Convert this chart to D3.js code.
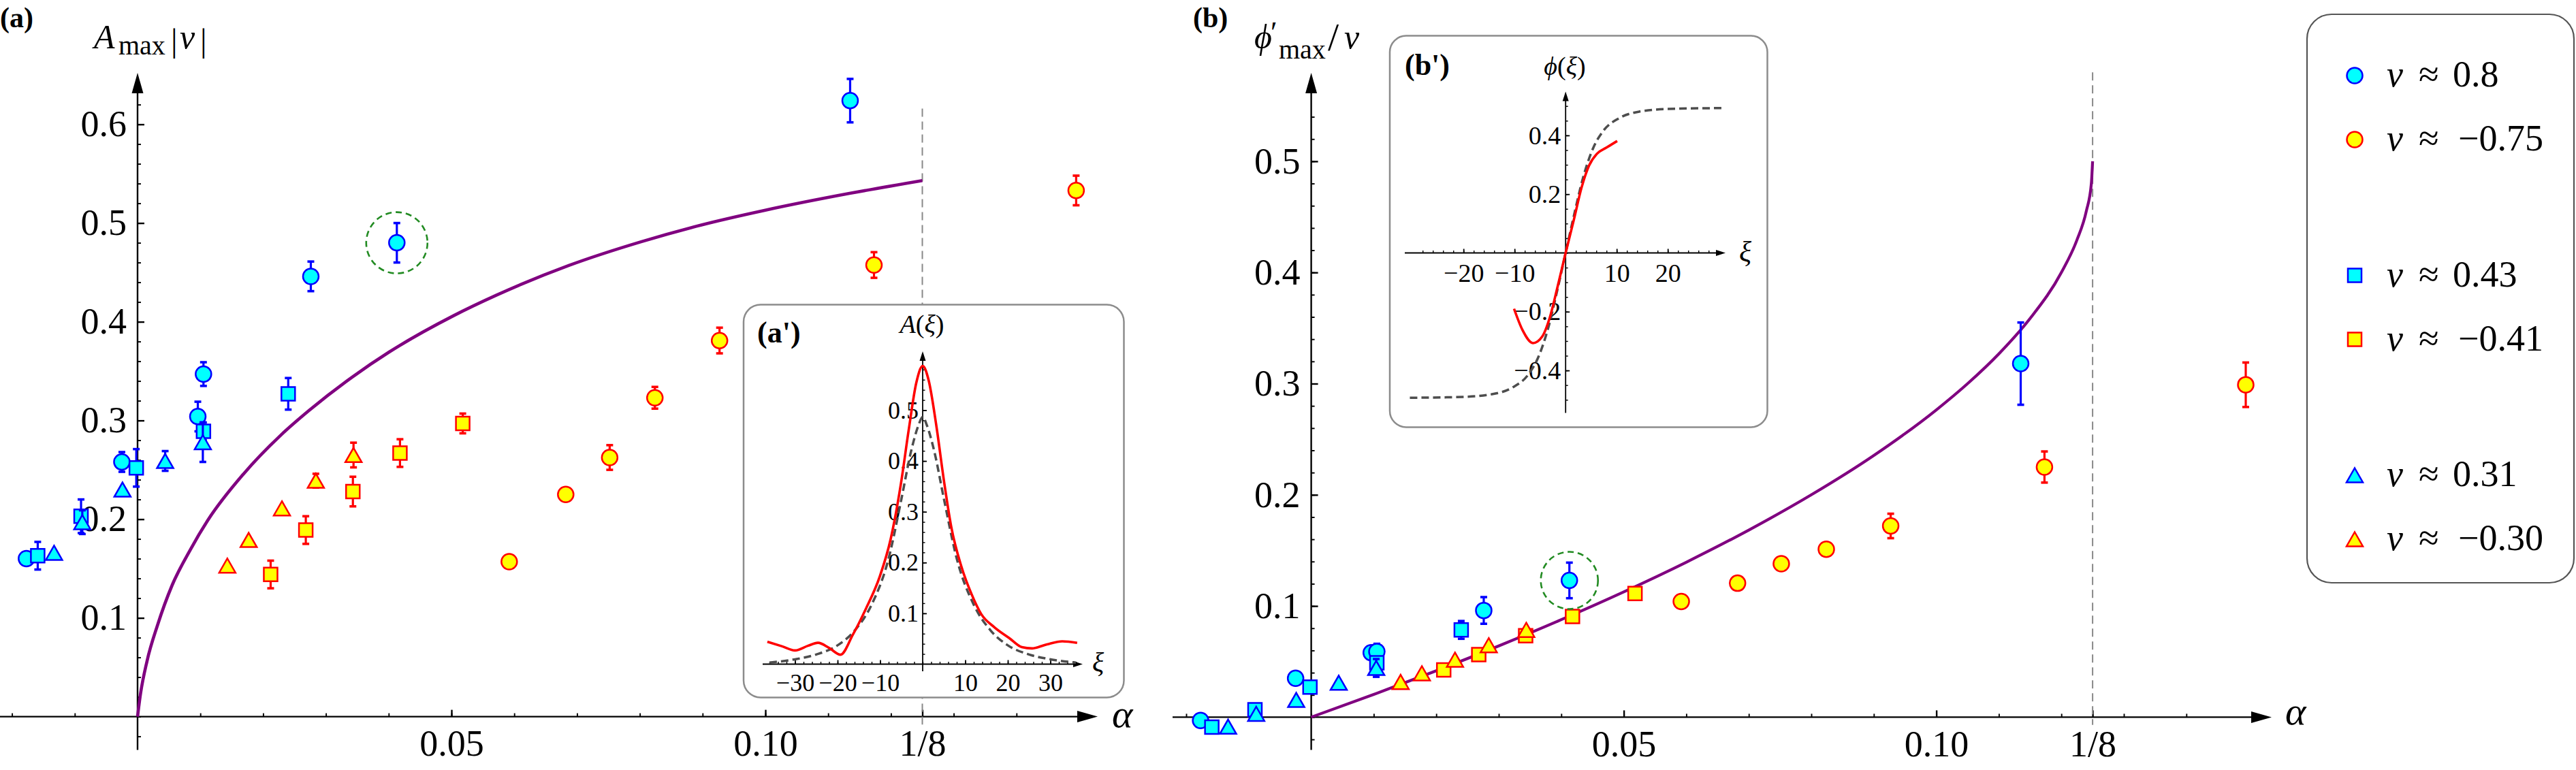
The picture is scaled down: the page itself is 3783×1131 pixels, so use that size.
<!DOCTYPE html>
<html>
<head>
<meta charset="utf-8">
<title>A_max|v| and phi'_max/v against alpha</title>
<script src="https://cdn.jsdelivr.net/npm/d3@7/dist/d3.min.js"></script>
<style>
  html, body { margin: 0; padding: 0; background: #fff; }
  svg { display: block; }
  svg text { font-family: "Liberation Serif", "DejaVu Serif", serif; }
</style>
</head>
<body>
<svg id="chart" width="3783" height="1131"></svg>
<script>
// ---------- values ----------

// runs, one array per series; the same runs appear in both panels
const alphaCyanCircle = [-0.0177, -0.0025, 0.0096, 0.0105, 0.0276, 0.0413, 0.1135];
const ampCyanCircle = [0.160, 0.258, 0.304, 0.347, 0.446, 0.480, 0.624];
const ampErrCyanCircle = [0, 0.010, 0.015, 0.012, 0.015, 0.020, 0.022];
const phaseCyanCircle = [-0.003, 0.035, 0.058, 0.059, 0.096, 0.123, 0.318];
const phaseErrCyanCircle = [0, 0, 0, 0.007, 0.012, 0.016, 0.037];

const alphaYellowCircle = [0.0592, 0.0682, 0.0752, 0.0824, 0.0927, 0.1173, 0.1495];
const ampYellowCircle = [0.157, 0.225, 0.2625, 0.323, 0.381, 0.4575, 0.533];
const ampErrYellowCircle = [0, 0, 0.0125, 0.011, 0.013, 0.013, 0.015];
const phaseYellowCircle = [0.104, 0.1205, 0.138, 0.151, 0.172, 0.225, 0.299];
const phaseErrYellowCircle = [0, 0, 0, 0, 0.011, 0.014, 0.020];

const alphaCyanSquare = [-0.0159, -0.0090, -0.0002, 0.0105, 0.0240];
const ampCyanSquare = [0.163, 0.203, 0.252, 0.289, 0.327];
const ampErrCyanSquare = [0.014, 0.017, 0.019, 0.009, 0.016];
const phaseCyanSquare = [-0.009, 0.0066, 0.027, 0.049, 0.0785];
const phaseErrCyanSquare = [0, 0, 0.004, 0, 0.008];

const alphaYellowSquare = [0.0212, 0.0268, 0.0343, 0.0418, 0.0518];
const ampYellowSquare = [0.144, 0.189, 0.228, 0.267, 0.297];
const ampErrYellowSquare = [0.014, 0.014, 0.015, 0.014, 0.010];
const phaseYellowSquare = [0.0425, 0.0563, 0.0732, 0.0905, 0.1113];
const phaseErrYellowSquare = [0, 0, 0, 0, 0];

const alphaCyanTriangle = [-0.0133, -0.0088, -0.0024, 0.0044, 0.0104];
const ampCyanTriangle = [0.166, 0.197, 0.230, 0.259, 0.278];
const ampErrCyanTriangle = [0, 0.012, 0, 0.010, 0.020];
const phaseCyanTriangle = [-0.0085, 0.003, 0.0155, 0.031, 0.0443];
const phaseErrCyanTriangle = [0, 0, 0, 0, 0.008];

const alphaYellowTriangle = [0.0143, 0.0177, 0.0230, 0.0284, 0.0344];
const ampYellowTriangle = [0.153, 0.179, 0.211, 0.239, 0.265];
const ampErrYellowTriangle = [0, 0, 0, 0.007, 0.0125];
const phaseYellowTriangle = [0.0317, 0.0395, 0.0517, 0.0647, 0.0785];
const phaseErrYellowTriangle = [0, 0, 0, 0, 0];

// theory curves, sampled along the purple lines
const theoryAmpAlpha = [0, 0.0004, 0.0015, 0.0032, 0.0055, 0.0084, 0.0112, 0.0169, 0.0228, 0.0273,
  0.0342, 0.0400, 0.0503, 0.0572, 0.0687, 0.0802, 0.0898, 0.1000, 0.1134, 0.1250];
const theoryAmp = [0, 0.020, 0.056, 0.093, 0.133, 0.169, 0.199, 0.246, 0.285, 0.310,
  0.344, 0.369, 0.406, 0.427, 0.457, 0.481, 0.498, 0.513, 0.530, 0.543];
const theoryPhaseAlpha = [0, 0.01, 0.02, 0.03, 0.04, 0.05, 0.06, 0.07, 0.08, 0.09, 0.10,
  0.105, 0.11, 0.115, 0.12, 0.1225, 0.124, 0.1248, 0.125];
const theoryPhase = [0, 0.0204, 0.0417, 0.0641, 0.0877, 0.1127, 0.1394, 0.1683, 0.200, 0.2354, 0.2764,
  0.300, 0.3268, 0.3586, 0.400, 0.4293, 0.4553, 0.480, 0.500];

// inset (a'): A(xi), simulation (red) and soliton (dashed)
const insetAXiSim = [-36.5, -33, -30, -27, -24.6, -22, -19.3, -16.4, -13.4, -10.1, -7.5, -5.1, -3.3, -1.5, 0,
  1.4, 3.2, 5, 6.7, 9.1, 11.5, 13.8, 16.8, 20.4, 23.3, 25.7, 29.2, 32.8, 36.3];
const insetASim = [0.044, 0.035, 0.027, 0.036, 0.042, 0.032, 0.0186, 0.058, 0.108, 0.172, 0.247, 0.356, 0.460, 0.554, 0.587,
  0.559, 0.470, 0.361, 0.271, 0.192, 0.1375, 0.098, 0.073, 0.051, 0.0335, 0.031, 0.039, 0.045, 0.042];
const insetAXiTheory = [-36, -30, -25, -20, -16, -12, -8, -5, -2.7, -1, 0, 1, 2.7, 5, 8, 12, 16, 20, 25, 30, 36];
const insetATheory = [0.003, 0.0095, 0.019, 0.037, 0.066, 0.117, 0.208, 0.325, 0.420, 0.470, 0.487,
  0.470, 0.420, 0.325, 0.208, 0.117, 0.066, 0.037, 0.019, 0.0095, 0.003];

// inset (b'): phi(xi)
const insetBXiSim = [-10.1, -8.4, -6.4, -4.6, -3.1, -1.6, 0, 1.6, 3.1, 4.6, 6.1, 8.05, 10.1];
const insetBSim = [-0.190, -0.264, -0.307, -0.285, -0.220, -0.117, 0, 0.112, 0.221, 0.298, 0.337, 0.359, 0.381];
const insetBXiTheory = [-30.5, -20, -14.4, -10.4, -7.4, -5.4, -3.4, -1.6, 0, 1.6, 3.4, 5.4, 7.4, 10.4, 14.4, 20, 30.5];
const insetBTheory = [-0.493, -0.490, -0.481, -0.458, -0.416, -0.357, -0.255, -0.125, 0,
  0.125, 0.255, 0.357, 0.416, 0.458, 0.481, 0.490, 0.493];

// tick labels
const alphaTicks = [0.05, 0.10, 0.125];
const alphaTickLabels = ['0.05', '0.10', '1/8'];
const ampTicks = [0.1, 0.2, 0.3, 0.4, 0.5, 0.6];
const phaseTicks = [0.1, 0.2, 0.3, 0.4, 0.5];
const insetAXTicks = [-30, -20, -10, 10, 20, 30];
const insetAYTicks = [0.1, 0.2, 0.3, 0.4, 0.5];
const insetBXTicks = [-20, -10, 10, 20];
const insetBYTicks = [-0.4, -0.2, 0.2, 0.4];

const legendValues = ['0.8', '\u22120.75', '0.43', '\u22120.41', '0.31', '\u22120.30'];

// ---------- drawing ----------

const svg = d3.select('#chart');
const serif = "Liberation Serif, DejaVu Serif, serif";

const colors = {
  cyan: { fill: '#00ffff', stroke: '#0000ff' },
  yellow: { fill: '#ffff00', stroke: '#ff0000' }
};

const series = [
  { shape: 'circle', color: 'cyan', alpha: alphaCyanCircle, amp: ampCyanCircle, ampErr: ampErrCyanCircle, phase: phaseCyanCircle, phaseErr: phaseErrCyanCircle },
  { shape: 'circle', color: 'yellow', alpha: alphaYellowCircle, amp: ampYellowCircle, ampErr: ampErrYellowCircle, phase: phaseYellowCircle, phaseErr: phaseErrYellowCircle },
  { shape: 'square', color: 'cyan', alpha: alphaCyanSquare, amp: ampCyanSquare, ampErr: ampErrCyanSquare, phase: phaseCyanSquare, phaseErr: phaseErrCyanSquare },
  { shape: 'square', color: 'yellow', alpha: alphaYellowSquare, amp: ampYellowSquare, ampErr: ampErrYellowSquare, phase: phaseYellowSquare, phaseErr: phaseErrYellowSquare },
  { shape: 'triangle', color: 'cyan', alpha: alphaCyanTriangle, amp: ampCyanTriangle, ampErr: ampErrCyanTriangle, phase: phaseCyanTriangle, phaseErr: phaseErrCyanTriangle },
  { shape: 'triangle', color: 'yellow', alpha: alphaYellowTriangle, amp: ampYellowTriangle, ampErr: ampErrYellowTriangle, phase: phaseYellowTriangle, phaseErr: phaseErrYellowTriangle }
];

const fmtMinus = s => s.replace('-', '\u2212');

function shapePath(shape) {
  if (shape === 'circle') return d3.symbol(d3.symbolCircle, Math.PI * 11.5 * 11.5)();
  if (shape === 'square') return d3.symbol(d3.symbolSquare, 20 * 20)();
  return 'M0,-10.5L12,10.5L-12,10.5Z';
}

function drawAxes(g, x, y, o) {
  const ox = x(0), oy = y(0);
  const tidy = a => a.select('.domain').remove();

  g.append('g').attr('transform', `translate(0,${oy})`)
    .call(d3.axisBottom(x).tickValues(o.xMinor).tickSize(-o.minor).tickFormat(''))
    .call(tidy).attr('stroke-width', o.sw * 0.8);
  g.append('g').attr('transform', `translate(0,${oy})`)
    .call(d3.axisBottom(x).tickValues(o.xMajor).tickSize(-o.major).tickPadding(o.xPad)
      .tickFormat((d, i) => o.xLabels[i]))
    .call(tidy)
    .attr('stroke-width', o.sw).attr('font-family', serif).attr('font-size', o.fs);

  g.append('g').attr('transform', `translate(${ox},0)`)
    .call(d3.axisLeft(y).tickValues(o.yMinor).tickSize(-o.minor).tickFormat(''))
    .call(tidy).attr('stroke-width', o.sw * 0.8);
  g.append('g').attr('transform', `translate(${ox},0)`)
    .call(d3.axisLeft(y).tickValues(o.yMajor).tickSize(-o.major).tickPadding(o.yPad)
      .tickFormat((d, i) => o.yLabels[i]))
    .call(tidy)
    .attr('stroke-width', o.sw).attr('font-family', serif).attr('font-size', o.fs);

  g.append('line')
    .attr('x1', o.xFrom).attr('x2', o.xTip - o.ahL + 1).attr('y1', oy).attr('y2', oy)
    .attr('stroke', '#000').attr('stroke-width', o.sw);
  g.append('path')
    .attr('d', `M${o.xTip},${oy}L${o.xTip - o.ahL},${oy - o.ahW / 2}L${o.xTip - o.ahL},${oy + o.ahW / 2}Z`)
    .attr('fill', '#000');
  g.append('line')
    .attr('x1', ox).attr('x2', ox).attr('y1', o.yFrom).attr('y2', o.yTip + o.ahL - 1)
    .attr('stroke', '#000').attr('stroke-width', o.sw);
  g.append('path')
    .attr('d', `M${ox},${o.yTip}L${ox - o.ahW / 2},${o.yTip + o.ahL}L${ox + o.ahW / 2},${o.yTip + o.ahL}Z`)
    .attr('fill', '#000');
}

function drawPoints(g, x, y, key, errKey) {
  series.forEach(s => {
    const col = colors[s.color];
    const pts = s.alpha.map((a, i) => ({ a: a, v: s[key][i], e: s[errKey][i] }));
    const bars = g.append('g').attr('stroke', col.stroke);
    pts.filter(p => p.e > 0).forEach(p => {
      const cx = x(p.a), top = y(p.v + p.e), bot = y(p.v - p.e);
      bars.append('line').attr('x1', cx).attr('x2', cx).attr('y1', top).attr('y2', bot).attr('stroke-width', 3.2);
      bars.append('line').attr('x1', cx - 5).attr('x2', cx + 5).attr('y1', top).attr('y2', top).attr('stroke-width', 3.6);
      bars.append('line').attr('x1', cx - 5).attr('x2', cx + 5).attr('y1', bot).attr('y2', bot).attr('stroke-width', 3.6);
    });
    g.append('g').selectAll('path').data(pts).join('path')
      .attr('d', shapePath(s.shape))
      .attr('transform', p => `translate(${x(p.a)},${y(p.v)})`)
      .attr('fill', col.fill).attr('stroke', col.stroke).attr('stroke-width', 2.5);
  });
}

function curve(x, y) {
  return d3.line().x(d => x(d[0])).y(d => y(d[1])).curve(d3.curveMonotoneX);
}

function italic(g, str, px, py, size, anchor) {
  return g.append('text').attr('x', px).attr('y', py).attr('font-size', size)
    .attr('font-style', 'italic').attr('text-anchor', anchor || 'start').text(str);
}
function roman(g, str, px, py, size, anchor) {
  return g.append('text').attr('x', px).attr('y', py).attr('font-size', size)
    .attr('text-anchor', anchor || 'start').text(str);
}

// ===== panel (a) =====
const xA = d3.scaleLinear().domain([0, 0.125]).range([202, 1354.5]);
const yA = d3.scaleLinear().domain([0, 0.6]).range([1052.6, 182.6]);
const gA = svg.append('g');

drawAxes(gA, xA, yA, {
  xFrom: 0, xTip: 1612, yFrom: 1101.6, yTip: 107,
  xMajor: alphaTicks, xLabels: alphaTickLabels, xMinor: d3.range(-2, 15).map(i => i / 100),
  yMajor: ampTicks, yLabels: ampTicks.map(d => d.toFixed(1)), yMinor: d3.range(-1, 32).map(i => i / 50),
  fs: 54, major: 10, minor: 5, xPad: 19, yPad: 16, sw: 2.4, ahL: 30, ahW: 17
});

gA.append('line')
  .attr('x1', xA(0.125)).attr('x2', xA(0.125)).attr('y1', yA(0.616)).attr('y2', yA(-0.008))
  .attr('stroke', '#888').attr('stroke-width', 2).attr('stroke-dasharray', '12,7');

gA.append('path').datum(d3.zip(theoryAmpAlpha, theoryAmp))
  .attr('d', curve(xA, yA)).attr('fill', 'none').attr('stroke', '#800080').attr('stroke-width', 4.6);

roman(gA, '(a)', 0, 40, 42).attr('font-weight', 'bold');
italic(gA, 'A', 138, 71, 50);
roman(gA, 'max', 174, 80, 40);
roman(gA, '|', 251, 76, 48);
italic(gA, 'v', 264, 71, 50);
roman(gA, '|', 294, 76, 48);
italic(gA, '\u03b1', 1633, 1068, 58);

// inset (a')
const gIA = gA.append('g');
gIA.append('rect').attr('x', 1092).attr('y', 447.5).attr('width', 558.5).attr('height', 577).attr('rx', 25)
  .attr('fill', '#fff').attr('stroke', '#8c8c8c').attr('stroke-width', 2.5);
const xIA = d3.scaleLinear().domain([0, 30]).range([1355, 1542.5]);
const yIA = d3.scaleLinear().domain([0, 0.5]).range([975.5, 602.5]);
drawAxes(gIA, xIA, yIA, {
  xFrom: 1120, xTip: 1590, yFrom: 986, yTip: 516,
  xMajor: insetAXTicks, xLabels: insetAXTicks.map(d => fmtMinus(String(d))), xMinor: d3.range(-18, 19).map(i => i * 2),
  yMajor: insetAYTicks, yLabels: insetAYTicks.map(d => d.toFixed(1)), yMinor: d3.range(1, 30).map(i => i / 50),
  fs: 36, major: 6, minor: 3.5, xPad: 14, yPad: 6, sw: 1.8, ahL: 14, ahW: 9
});
gIA.append('path').datum(d3.zip(insetAXiTheory, insetATheory))
  .attr('d', curve(xIA, yIA)).attr('fill', 'none').attr('stroke', '#4d4d4d').attr('stroke-width', 3.5)
  .attr('stroke-dasharray', '11,6');
gIA.append('path').datum(d3.zip(insetAXiSim, insetASim))
  .attr('d', curve(xIA, yIA)).attr('fill', 'none').attr('stroke', '#ff0000').attr('stroke-width', 3.6);
roman(gIA, "(a')", 1112, 503, 44).attr('font-weight', 'bold');
const aLab = gIA.append('text').attr('x', 1354).attr('y', 489).attr('font-size', 38).attr('text-anchor', 'middle');
aLab.append('tspan').attr('font-style', 'italic').text('A');
aLab.append('tspan').text('(');
aLab.append('tspan').attr('font-style', 'italic').text('\u03be');
aLab.append('tspan').text(')');
italic(gIA, '\u03be', 1604, 986, 40);

// ===== panel (b) =====
const xB = d3.scaleLinear().domain([0, 0.125]).range([1925.6, 3073.1]);
const yB = d3.scaleLinear().domain([0, 0.5]).range([1053.4, 236.9]);
const gB = svg.append('g');

drawAxes(gB, xB, yB, {
  xFrom: 1722, xTip: 3336, yFrom: 1101.6, yTip: 107,
  xMajor: alphaTicks, xLabels: alphaTickLabels, xMinor: d3.range(-2, 15).map(i => i / 100),
  yMajor: phaseTicks, yLabels: phaseTicks.map(d => d.toFixed(1)), yMinor: d3.range(-1, 28).map(i => i / 50),
  fs: 54, major: 10, minor: 5, xPad: 19, yPad: 16, sw: 2.4, ahL: 30, ahW: 17
});

gB.append('line')
  .attr('x1', xB(0.125)).attr('x2', xB(0.125)).attr('y1', yB(0.58)).attr('y2', yB(-0.007))
  .attr('stroke', '#888').attr('stroke-width', 2).attr('stroke-dasharray', '12,7');

gB.append('path').datum(d3.zip(theoryPhaseAlpha, theoryPhase))
  .attr('d', curve(xB, yB)).attr('fill', 'none').attr('stroke', '#800080').attr('stroke-width', 4.2);

roman(gB, '(b)', 1752, 40, 42).attr('font-weight', 'bold');
italic(gB, '\u03d5', 1842, 71, 50);
roman(gB, '\u2032', 1866, 62, 44);
roman(gB, 'max', 1878, 86, 40);
roman(gB, '/', 1950, 74, 58);
italic(gB, 'v', 1974, 71, 50);
italic(gB, '\u03b1', 3356, 1064, 58);

// inset (b')
const gIB = gB.append('g');
gIB.append('rect').attr('x', 2041).attr('y', 52.5).attr('width', 554.5).attr('height', 575).attr('rx', 24)
  .attr('fill', '#fff').attr('stroke', '#8c8c8c').attr('stroke-width', 2.5);
const xIB = d3.scaleLinear().domain([0, 20]).range([2299.2, 2449.2]);
const yIB = d3.scaleLinear().domain([0, 0.4]).range([371.5, 198.9]);
drawAxes(gIB, xIB, yIB, {
  xFrom: 2063, xTip: 2534, yFrom: 606.6, yTip: 134.6,
  xMajor: insetBXTicks, xLabels: insetBXTicks.map(d => fmtMinus(String(d))), xMinor: d3.range(-14, 15).map(i => i * 2),
  yMajor: insetBYTicks, yLabels: insetBYTicks.map(d => fmtMinus(d.toFixed(1))), yMinor: d3.range(-10, 11).map(i => i / 20),
  fs: 38, major: 6, minor: 3.5, xPad: 16, yPad: 7, sw: 1.8, ahL: 14, ahW: 9
});
gIB.append('path').datum(d3.zip(insetBXiTheory, insetBTheory))
  .attr('d', curve(xIB, yIB)).attr('fill', 'none').attr('stroke', '#4d4d4d').attr('stroke-width', 3.5)
  .attr('stroke-dasharray', '11,6');
gIB.append('path').datum(d3.zip(insetBXiSim, insetBSim))
  .attr('d', curve(xIB, yIB)).attr('fill', 'none').attr('stroke', '#ff0000').attr('stroke-width', 3.6);
roman(gIB, "(b')", 2063, 110, 44).attr('font-weight', 'bold');
const pLab = gIB.append('text').attr('x', 2298).attr('y', 110).attr('font-size', 38).attr('text-anchor', 'middle');
pLab.append('tspan').attr('font-style', 'italic').text('\u03d5');
pLab.append('tspan').text('(');
pLab.append('tspan').attr('font-style', 'italic').text('\u03be');
pLab.append('tspan').text(')');
italic(gIB, '\u03be', 2554, 384, 42);

// ===== data points and highlighted run =====
drawPoints(gA, xA, yA, 'amp', 'ampErr');
drawPoints(gB, xB, yB, 'phase', 'phaseErr');

gA.append('circle').attr('cx', xA(alphaCyanCircle[5])).attr('cy', yA(ampCyanCircle[5])).attr('r', 45)
  .attr('fill', 'none').attr('stroke', '#228b22').attr('stroke-width', 2.6).attr('stroke-dasharray', '9,6');
gB.append('circle').attr('cx', xB(alphaCyanCircle[5])).attr('cy', yB(phaseCyanCircle[5])).attr('r', 42)
  .attr('fill', 'none').attr('stroke', '#228b22').attr('stroke-width', 2.6).attr('stroke-dasharray', '9,6');

// ===== legend =====
const gL = svg.append('g');
gL.append('rect').attr('x', 3388).attr('y', 21).attr('width', 392).attr('height', 835).attr('rx', 36)
  .attr('fill', '#fff').attr('stroke', '#555').attr('stroke-width', 2.2);
series.forEach((s, i) => {
  const rowY = 111 + Math.floor(i / 2) * 293.5 + (i % 2) * 94;
  const col = colors[s.color];
  gL.append('path').attr('d', shapePath(s.shape)).attr('transform', `translate(3458,${rowY})`)
    .attr('fill', col.fill).attr('stroke', col.stroke).attr('stroke-width', 2.5);
  italic(gL, 'v', 3505, rowY + 16, 54);
  roman(gL, '\u2248', 3552, rowY + 16, 54);
  const neg = legendValues[i].startsWith('\u2212');
  roman(gL, legendValues[i], neg ? 3610 : 3602, rowY + 16, 54);
});
</script>
</body>
</html>
